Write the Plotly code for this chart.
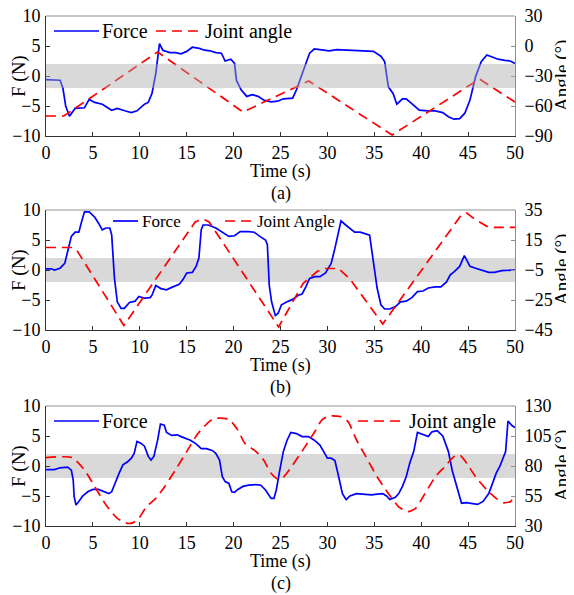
import plotly.graph_objects as go

# ---------------- data ----------------
t_force_a = [0, 1.5, 1.8, 2.1, 2.5, 3.1, 4.1, 4.6, 5.2, 6.0, 7.0, 7.6, 8.4, 9.1, 9.7, 10.5, 10.9, 11.3, 11.7, 12.1,
             12.45, 13.2, 13.8, 14.4, 15.0, 15.6, 16.35, 16.9, 17.5, 18.1, 18.7, 19.1, 19.7, 20.1, 20.3, 20.8, 21.4,
             22.0, 22.6, 23.2, 24.0, 24.7, 25.3, 26.3, 26.7, 27.5, 28.1, 28.6, 29.4, 30.2, 31.0, 32.2, 33.1, 34.1,
             34.9, 35.7, 36.1, 36.5, 37.0, 37.4, 38.0, 38.4, 39.0, 39.8, 40.7, 41.5, 42.3, 42.9, 43.5, 44.1, 44.65,
             45.2, 45.8, 46.4, 47.0, 47.6, 48.2, 48.9, 49.5, 50]
force_a = [-0.6, -0.7, -2.0, -5.0, -6.7, -5.4, -5.3, -3.9, -4.4, -4.7, -5.7, -5.4, -5.8, -6.1, -5.8, -4.7, -4.4, -2.9,
           0.4, 5.4, 4.3, 3.9, 3.9, 3.7, 4.1, 4.8, 4.6, 4.3, 4.2, 3.9, 3.8, 2.5, 2.8, 2.1, -0.7, -2.3, -3.4, -3.1,
           -3.4, -4.0, -4.3, -4.2, -3.8, -3.7, -2.3, 1.0, 3.8, 4.5, 4.3, 4.2, 4.4, 4.3, 4.2, 4.2, 4.1, 3.3, 2.4,
           -1.8, -2.9, -4.7, -3.8, -3.8, -4.6, -5.7, -5.8, -5.8, -6.1, -6.8, -7.2, -7.1, -6.2, -4.0, -0.1, 2.4,
           3.5, 3.2, 2.8, 2.6, 2.5, 2.1]
t_angle_a = [0, 1.9, 11.9, 21.0, 28.0, 36.9, 46.2, 50]
angle_a = [-70, -70, -6, -66, -35, -89, -33, -56]

t_force_b = [0, 0.55, 0.9, 1.5, 2.0, 2.3, 2.7, 3.1, 3.5, 3.75, 4.1, 4.6, 5.2, 5.6, 6.0, 6.4, 6.8, 7.0, 7.3, 7.6,
             8.0, 8.35, 8.9, 9.5, 9.9, 10.5, 11.1, 11.3, 11.7, 12.25, 12.85, 13.4, 14.2, 14.6, 15.0, 15.6, 16.0,
             16.3, 16.55, 16.75, 17.3, 18.1, 18.9, 19.5, 20.1, 20.7, 21.6, 22.2, 22.8, 23.4, 23.6, 23.8, 24.05,
             24.45, 24.75, 25.1, 25.7, 26.3, 26.9, 27.3, 27.7, 28.1, 28.65, 29.2, 29.8, 30.4, 30.8, 31.2, 31.45,
             31.95, 32.55, 32.9, 33.5, 34.1, 34.5, 34.9, 35.3, 35.7, 36.1, 36.65, 37.25, 37.8, 38.4, 39.0, 39.6,
             40.2, 40.75, 41.5, 42.1, 42.7, 43.1, 43.5, 44.1, 44.6, 44.85, 45.2, 45.8, 46.4, 47.2, 47.8, 48.6, 50]
force_b = [0.2, 0.2, 0.0, 0.3, 1.1, 3.1, 5.6, 6.3, 6.3, 7.8, 9.7, 9.7, 8.8, 7.8, 6.7, 7.0, 7.0, 5.9, -1.4, -5.3,
           -6.4, -6.4, -5.4, -5.2, -4.4, -4.7, -4.6, -4.2, -2.6, -3.1, -3.3, -2.9, -2.4, -1.6, -0.5, -0.4, 0.6,
           2.0, 6.7, 7.5, 7.5, 7.0, 6.2, 5.6, 5.7, 6.4, 6.4, 6.3, 5.6, 5.0, 4.2, -2.5, -5.3, -7.6, -7.2, -5.8,
           -5.3, -4.9, -4.2, -4.0, -2.8, -1.4, -1.1, -1.1, -0.5, 1.1, 3.6, 6.4, 8.2, 7.5, 6.7, 6.3, 6.3, 6.0,
           5.8, 1.4, -3.0, -5.8, -6.5, -6.5, -6.1, -5.3, -5.2, -4.6, -3.6, -3.5, -3.0, -2.8, -2.8, -2.0, -0.8,
           -0.3, 0.6, 2.4, 1.7, 0.6, 0.3, 0.0, -0.4, -0.4, -0.1, 0.0]
t_angle_b = [0, 2.8, 3.3, 8.3, 15.9, 16.7, 17.4, 24.8, 27.4, 28.9, 29.6, 31.2, 32.4, 35.9, 44.2, 44.85, 45.8, 47.0,
             47.8, 50]
angle_b = [10, 10, 8, -42, 27, 29, 27, -43, -14, -6, -4, -4, -11, -41, 31, 33, 28.5, 24.1, 23.4, 23.4]

t_force_c = [0, 0.9, 1.5, 2.3, 2.7, 2.9, 3.0, 3.2, 3.5, 3.9, 4.45, 5.0, 5.6, 6.2, 6.7, 7.0, 7.4, 7.8, 8.2, 8.7,
             9.1, 9.4, 9.7, 10.1, 10.5, 10.9, 11.2, 11.5, 11.9, 12.2, 12.6, 12.85, 13.4, 14.0, 14.4, 15.0, 15.4,
             16.0, 16.55, 17.1, 17.7, 18.1, 18.5, 18.8, 19.1, 19.5, 19.8, 20.1, 20.45, 21.0, 21.6, 22.4, 22.9,
             23.4, 24.0, 24.3, 24.55, 24.9, 25.3, 25.7, 26.1, 26.7, 27.3, 28.0, 28.6, 29.2, 29.6, 30.0, 30.4,
             30.8, 31.2, 31.6, 32.0, 32.4, 33.1, 33.9, 34.7, 35.3, 35.9, 36.3, 36.65, 37.25, 37.6, 38.0, 38.4,
             38.8, 39.2, 39.6, 40.2, 40.75, 41.15, 41.7, 42.3, 42.9, 43.3, 43.9, 44.3, 44.8, 45.4, 46.0, 46.6,
             47.2, 47.6, 48.0, 48.4, 48.8, 49.0, 49.25, 49.5, 49.7, 50]
force_c = [-0.6, -0.6, -0.3, -0.2, -0.7, -2.3, -5.1, -6.5, -5.9, -5.0, -4.3, -3.9, -3.9, -4.3, -4.6, -4.3, -2.6,
           -1.2, 0.2, 0.7, 1.3, 2.1, 4.1, 3.8, 3.3, 1.6, 1.0, 1.6, 4.3, 7.0, 6.8, 5.6, 5.1, 5.2, 4.9, 4.6, 4.3,
           3.7, 2.9, 2.9, 2.6, 2.1, 1.0, -1.8, -2.6, -2.9, -4.3, -4.4, -3.9, -3.4, -3.2, -3.1, -3.2, -4.0, -5.4,
           -5.4, -4.0, -0.9, 2.4, 4.3, 5.6, 5.4, 4.9, 4.9, 4.3, 3.5, 2.4, 1.3, 1.3, 0.9, -1.8, -4.6, -5.6, -5.0,
           -4.6, -4.7, -4.8, -4.7, -4.6, -5.0, -5.6, -5.2, -4.6, -3.4, -1.8, 0.6, 2.4, 5.6, 5.2, 4.9, 5.7, 5.9,
           5.0, 2.4, -0.7, -4.0, -6.2, -6.1, -6.2, -6.4, -5.9, -4.6, -2.9, -1.2, 0.0, 1.6, 2.4, 7.5, 7.1, 6.7, 6.4]
t_angle_c = [0, 2.8, 4.1, 5.2, 6.4, 7.6, 8.7, 9.3, 9.9, 10.7, 11.7, 12.65, 13.8, 15.0, 16.2, 17.4, 18.1, 19.5,
             20.45, 21.2, 22.4, 23.2, 24.0, 24.75, 25.3, 26.3, 27.5, 28.65, 29.4, 30.2, 31.4, 32.2, 33.1, 34.1,
             35.3, 36.5, 37.6, 38.6, 39.4, 40.4, 41.5, 42.5, 43.5, 44.1, 44.85, 45.8, 47.0, 48.0, 48.75, 49.5, 50]
angle_c = [87, 87, 76.7, 62.8, 47.5, 36.4, 32.2, 32.8, 36.4, 46, 53, 62.8, 76.7, 92, 107, 117, 119.7, 118.9, 110,
           98.9, 92, 85, 73.9, 68.9, 70.6, 80.8, 94.7, 108.6, 118.3, 121.7, 121.1, 117, 101.7, 87.8, 71, 57, 46,
           42, 44.7, 57, 71, 79.4, 87.8, 89.2, 82.2, 71, 60, 53, 49.4, 50.3, 55]

force_ticks = [-10, -5, 0, 5, 10]
time_ticks = [0, 5, 10, 15, 20, 25, 30, 35, 40, 45, 50]
angle_ticks_a = [-90, -60, -30, 0, 30]
angle_ticks_b = [-45, -25, -5, 15, 35]
angle_ticks_c = [30, 55, 80, 105, 130]
band = [-2, 2]
panel_labels = ["(a)", "(b)", "(c)"]
legend_force = "Force"
legend_angle = ["Joint angle", "Joint Angle", "Joint angle"]

# ---------------- styling ----------------
FONT = "Liberation Serif, Times New Roman, serif"
BLUE = "#0000FF"
RED = "#FF0000"
DARK = "#333333"
GREY = "#8f8f8f"
DASH = "10px,6px"
OFF = 8                      # page body margin around the figure
W, H = 574 - OFF, 595 - OFF  # figure size so that it fills the window
L, R, T, B = 38, 59, 8, 69
PW, PH = W - L - R, H - T - B
SX0, SY1 = OFF + L, OFF + T + PH   # window px of plot-area left / bottom


def px_x(p):
    """window pixel x -> paper"""
    return (p - SX0) / PW


def px_y(p):
    """window pixel y -> paper"""
    return (SY1 - p) / PH


panel_tops = [16, 210, 406]  # window pixel tops of each panel
panel_h = 120
domains = [[px_y(t0 + panel_h), px_y(t0)] for t0 in panel_tops]

fig = go.Figure()

angle_sets = [(t_angle_a, angle_a, angle_ticks_a, "linear"),
              (t_angle_b, angle_b, angle_ticks_b, "linear"),
              (t_angle_c, angle_c, angle_ticks_c, "spline")]
force_sets = [(t_force_a, force_a), (t_force_b, force_b), (t_force_c, force_c)]
tickfont = dict(family=FONT, size=18, color="black")

for i in range(3):
    xa = "x" if i == 0 else f"x{i + 1}"
    ya = "y" if i == 0 else f"y{2 * i + 1}"
    ya2 = f"y{2 * i + 2}"
    tf, fv = force_sets[i]
    ta, av, aticks, shape = angle_sets[i]
    fig.add_trace(go.Scatter(x=tf, y=fv, xaxis=xa, yaxis=ya, mode="lines", name=legend_force,
                             line=dict(color=BLUE, width=1.7), showlegend=False))
    fig.add_trace(go.Scatter(x=ta, y=av, xaxis=xa, yaxis=ya2, mode="lines", name=legend_angle[i],
                             line=dict(color=RED, width=1.7, dash=DASH, shape=shape, smoothing=0.6),
                             showlegend=False))

    axn = "" if i == 0 else str(i + 1)
    fig.update_layout(**{
        f"xaxis{axn}": dict(domain=[0, 1], anchor=ya, range=[0, 50], tickvals=time_ticks,
                            ticks="inside", ticklen=4, tickcolor=DARK, showline=True, linecolor=DARK,
                            linewidth=1, showgrid=False, zeroline=False, ticklabelstandoff=0,
                            tickfont=tickfont, automargin=False, ticklabeloverflow="allow"),
        f"yaxis{'' if i == 0 else 2 * i + 1}": dict(domain=domains[i], anchor=xa, range=[-10, 10],
                                                   tickvals=force_ticks, ticks="inside", ticklen=4,
                                                   tickcolor=DARK, showline=True, linecolor=DARK,
                                                   showgrid=False, zeroline=False, ticklabelstandoff=1,
                                                   tickfont=tickfont, automargin=False,
                                                   ticklabeloverflow="allow"),
        f"yaxis{2 * i + 2}": dict(overlaying=ya, side="right", anchor=xa,
                                 range=[aticks[0], aticks[-1]], tickvals=aticks, ticks="inside",
                                 ticklen=4, tickcolor=GREY, showline=True, linecolor=GREY,
                                 showgrid=False, zeroline=False, ticklabelstandoff=5,
                                 tickfont=tickfont, automargin=False, ticklabeloverflow="allow"),
    })

    # grey band
    if i == 0:
        fig.add_shape(type="rect", xref=f"{xa} domain", yref=ya, x0=0, x1=1, y0=band[0], y1=band[1],
                      fillcolor="rgba(170,170,170,0.45)", line_width=0, layer="above")
    else:
        fig.add_shape(type="rect", xref=f"{xa} domain", yref=ya, x0=0, x1=1, y0=band[0], y1=band[1],
                      fillcolor="#d9d9d9", line_width=0, layer="below")
    # top frame line
    fig.add_shape(type="line", xref=f"{xa} domain", yref=f"{ya} domain", x0=0, x1=1, y0=1, y1=1,
                  line=dict(color=GREY, width=1), layer="above")

    top = panel_tops[i]
    bottom = top + panel_h
    # axis titles and panel labels
    fig.add_annotation(text="Time (s)", xref="paper", yref="paper", x=0.5, y=px_y(bottom + 35),
                       showarrow=False, font=dict(family=FONT, size=18, color="black"),
                       xanchor="center", yanchor="middle", borderpad=0)
    fig.add_annotation(text=panel_labels[i], xref="paper", yref="paper", x=0.5, y=px_y(bottom + 57),
                       showarrow=False, font=dict(family=FONT, size=18, color="black"),
                       xanchor="center", yanchor="middle", borderpad=0)
    fig.add_annotation(text="F (N)", xref="paper", yref="paper", x=px_x(19), y=px_y(top + 60),
                       showarrow=False, textangle=-90, font=dict(family=FONT, size=19, color="black"),
                       xanchor="center", yanchor="middle", borderpad=0)
    fig.add_annotation(text="Angle (°)", xref="paper", yref="paper", x=px_x(562), y=px_y(top + 60),
                       showarrow=False, textangle=-90, font=dict(family=FONT, size=19, color="black"),
                       xanchor="center", yanchor="middle", borderpad=0)

# manual legends (window pixel positions of sample lines and labels)
legend_layout = [
    # (force line x0, x1, force text x, angle line x0, x1, angle text x, y, font size)
    (54, 99, 100, 156, 201, 203, 31, 20),
    (113, 138, 140, 225, 253, 255, 221, 17),
    (54, 99, 100, 358, 405, 407, 421, 20),
]
for i, (fx0, fx1, ftx, ax0, ax1, atx, ly, fs) in enumerate(legend_layout):
    fig.add_shape(type="line", xref="paper", yref="paper", x0=px_x(fx0), x1=px_x(fx1), y0=px_y(ly), y1=px_y(ly),
                  line=dict(color=BLUE, width=1.7), layer="above")
    fig.add_annotation(text=legend_force, xref="paper", yref="paper", x=px_x(ftx), y=px_y(ly), showarrow=False,
                       xanchor="left", yanchor="middle", font=dict(family=FONT, size=fs, color="black"))
    fig.add_shape(type="line", xref="paper", yref="paper", x0=px_x(ax0), x1=px_x(ax1), y0=px_y(ly), y1=px_y(ly),
                  line=dict(color=RED, width=1.7, dash=DASH), layer="above")
    fig.add_annotation(text=legend_angle[i], xref="paper", yref="paper", x=px_x(atx), y=px_y(ly),
                       showarrow=False, xanchor="left", yanchor="middle",
                       font=dict(family=FONT, size=fs, color="black"))

fig.update_layout(width=W, height=H, margin=dict(l=L, r=R, t=T, b=B, autoexpand=False), plot_bgcolor="white",
                  paper_bgcolor="white", showlegend=False, font=dict(family=FONT, size=18, color="black"))

fig.write_html("out.html")
